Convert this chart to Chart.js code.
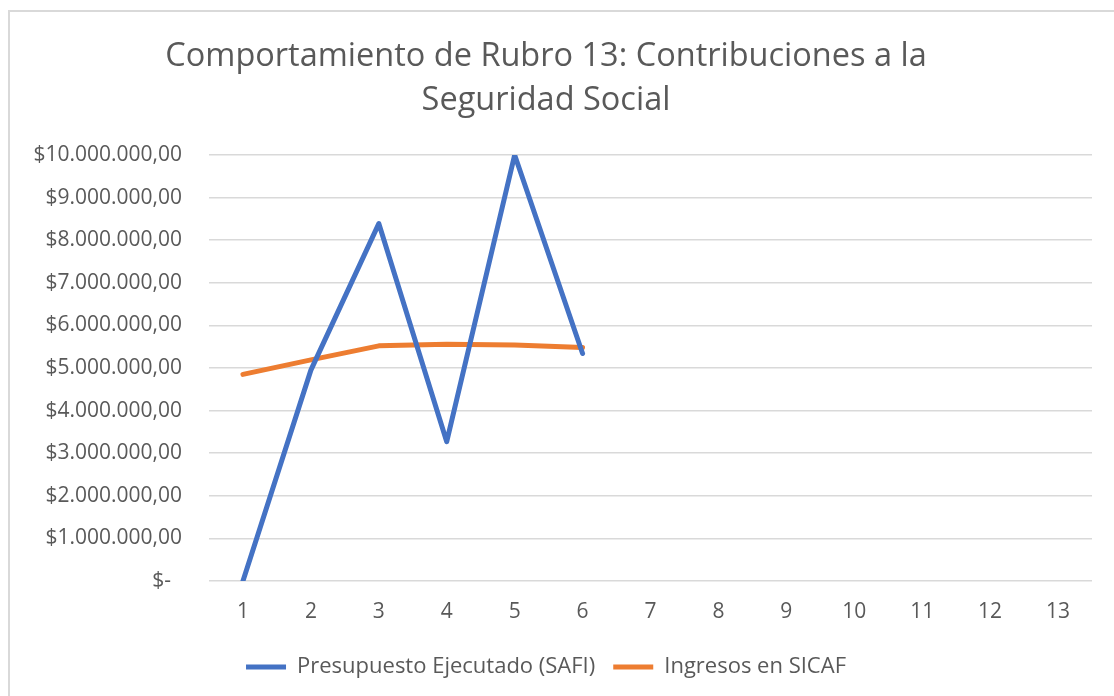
<!DOCTYPE html>
<html>
<head>
<meta charset="utf-8">
<script src="https://cdn.jsdelivr.net/npm/chart.js@4"></script>
<style>
  html, body { margin: 0; padding: 0; background: #fff; }
  #wrap { position: relative; width: 1114px; height: 696px; }
  #marco { position: absolute; left: 8px; top: 10px; width: 1120px; height: 700px;
           border: 2px solid #d9d9d9; box-sizing: border-box; pointer-events: none; }
</style>
</head>
<body>
<div id="wrap">
  <canvas id="grafico" width="1114" height="696"></canvas>
  <div id="marco"></div>
</div>
<script>
// datos del grafico
var categorias = ['1', '2', '3', '4', '5', '6', '7', '8', '9', '10', '11', '12', '13'];
var presupuestoSafi = [0, 4950000, 8390000, 3270000, 10000000, 5340000, null, null, null, null, null, null, null];
var ingresosSicaf = [4850000, 5190000, 5520000, 5560000, 5540000, 5480000, null, null, null, null, null, null, null];
var titulo = ['Comportamiento de Rubro 13: Contribuciones a la', 'Seguridad Social'];

// formato contable: $10.000.000,00
function formatoPesos(v) {
    if (v === 0) return '$-  ';
    var entero = Math.round(v).toString().replace(/\B(?=(\d{3})+(?!\d))/g, '.');
    return '$' + entero + ',00';
}

var gris = '#595959';
var ctx = document.getElementById('grafico').getContext('2d');
var chart = new Chart(ctx, {
    type: 'line',
    data: {
        labels: categorias,
        datasets: [{
            label: 'Presupuesto Ejecutado (SAFI)',
            data: presupuestoSafi,
            borderColor: '#4472C4',
            backgroundColor: '#4472C4',
            borderWidth: 5,
            pointRadius: 0,
            borderCapStyle: 'round',
            borderJoinStyle: 'round',
            tension: 0
        }, {
            label: 'Ingresos en SICAF',
            data: ingresosSicaf,
            borderColor: '#ED7D31',
            backgroundColor: '#ED7D31',
            borderWidth: 5,
            pointRadius: 0,
            borderCapStyle: 'round',
            borderJoinStyle: 'round',
            tension: 0
        }]
    },
    options: {
        responsive: false,
        animation: false,
        layout: { padding: { left: 0, right: 22, top: 0, bottom: 8 } },
        plugins: {
            title: {
                display: true,
                text: titulo,
                color: gris,
                font: { family: 'Open Sans', size: 32.5, weight: 'normal', lineHeight: 1.354 },
                padding: { top: 35, bottom: 32 }
            },
            legend: {
                position: 'bottom',
                labels: {
                    color: gris,
                    font: { family: 'Open Sans', size: 22 },
                    usePointStyle: true,
                    pointStyle: 'line',
                    pointStyleWidth: 40,
                    padding: 18
                }
            },
            tooltip: { enabled: false }
        },
        scales: {
            x: {
                offset: true,
                grid: { display: false, drawTicks: false },
                border: { display: false },
                ticks: { color: gris, font: { family: 'Open Sans', size: 21 }, padding: 18 },
                afterFit: function(scale) { scale.height = 57; }
            },
            y: {
                min: 0,
                max: 10000000,
                grid: { color: '#d9d9d9', lineWidth: 1.5, drawTicks: false },
                border: { display: false },
                ticks: {
                    stepSize: 1000000,
                    color: gris,
                    font: { family: 'Open Sans', size: 21 },
                    padding: 27,
                    callback: function(v) { return formatoPesos(v); }
                },
                afterFit: function(scale) { scale.width = 209; }
            }
        }
    }
});
</script>
</body>
</html>
